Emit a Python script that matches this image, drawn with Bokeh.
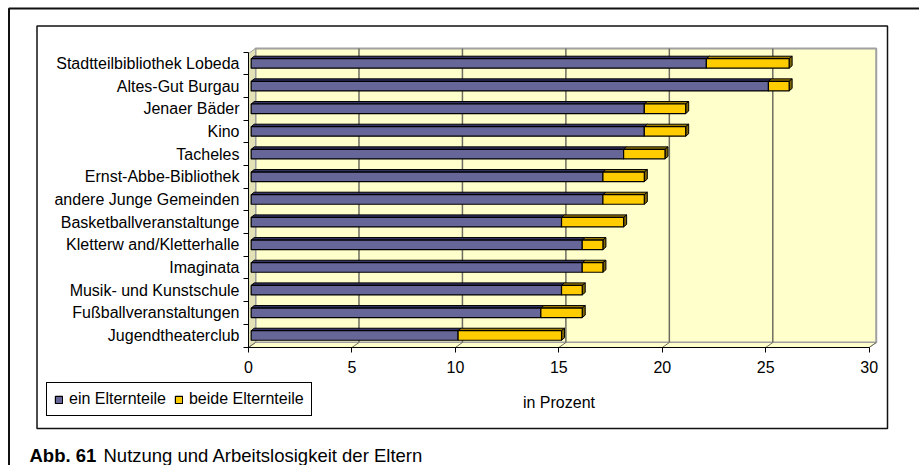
from bokeh.plotting import figure
from bokeh.models import Range1d, FixedTicker, BoxAnnotation, Label, Legend, LegendItem, ColumnDataSource
from bokeh.embed import file_html
from bokeh.resources import INLINE

# ---- data (top to bottom as in the chart) ----
categories = ["Stadtteilbibliothek Lobeda", "Altes-Gut Burgau", "Jenaer Bäder", "Kino",
              "Tacheles", "Ernst-Abbe-Bibliothek", "andere Junge Gemeinden",
              "Basketballveranstaltunge", "Kletterw and/Kletterhalle", "Imaginata",
              "Musik- und Kunstschule", "Fußballveranstaltungen", "Jugendtheaterclub"]
ein_elternteil = [22, 25, 19, 19, 18, 17, 17, 15, 16, 16, 15, 14, 10]
beide_elternteile = [4, 1, 2, 2, 2, 2, 2, 3, 1, 1, 1, 2, 5]
x_ticks = [0, 5, 10, 15, 20, 25, 30]
series_names = ["ein Elternteile", "beide Elternteile"]
x_label = "in Prozent"
caption_bold = "Abb. 61"
caption_text = "Nutzung und Arbeitslosigkeit der Eltern"

FONT = "Liberation Sans"
BLUE, BLUE_TOP = "#666699", "#333366"
YEL, YEL_TOP, YEL_SIDE = "#FFCC00", "#9C7C00", "#806600"
WALL, WALL_SIDE, GRID = "#FFFFCC", "#E2E2B6", "#6E6E60"

W, HGT = 919, 465
n = len(categories)
ypos = [n - 1 - i for i in range(n)]

# scale: frame covers the whole page, axes drawn at fixed locations
PX_X, PX_Y = 20.69, 22.67          # pixels per unit
X0_PAGE, Y0_PAGE = 248, 347        # page position of (0, Y0)
Y0 = -0.53
x_start = -X0_PAGE / PX_X
x_end = x_start + W / PX_X
y_start = Y0 - (HGT - Y0_PAGE) / PX_Y
y_end = Y0 + Y0_PAGE / PX_Y

DX, DY = 0.34, 0.22          # wall depth (data units)
BDX, BDY = 0.145, 0.11       # bar depth
OX = 0.13                    # bar offset inside depth
H = 0.42                     # bar height
WALL_TOP = 12.66

p = figure(width=W, height=HGT, output_backend="svg", toolbar_location=None,
           x_range=Range1d(x_start, x_end), y_range=Range1d(y_start, y_end),
           min_border=0)
p.min_border_left = p.min_border_right = p.min_border_top = p.min_border_bottom = 0
p.outline_line_color = None
p.background_fill_color = "white"
p.border_fill_color = "white"
p.xgrid.visible = False
p.ygrid.visible = False

xmax = x_ticks[-1]
# back wall, side wall, floor
p.quad(left=DX, right=xmax + DX, bottom=Y0 + DY, top=WALL_TOP, fill_color=WALL,
       line_color="#A0A0A0", line_width=2)
p.patch([0, DX, DX, 0], [Y0, Y0 + DY, WALL_TOP, WALL_TOP - DY], fill_color=WALL_SIDE,
        line_color="#A0A0A0", line_width=1)
p.patch([0, xmax, xmax + DX, DX], [Y0, Y0, Y0 + DY, Y0 + DY], fill_color=WALL,
        line_color="#A0A0A0", line_width=1)
# grid lines on back wall and floor
p.segment(x0=[t + DX for t in x_ticks[1:-1]], y0=[Y0 + DY] * (len(x_ticks) - 2),
          x1=[t + DX for t in x_ticks[1:-1]], y1=[WALL_TOP] * (len(x_ticks) - 2),
          line_color=GRID, line_width=1.5)
p.segment(x0=x_ticks, y0=[Y0] * len(x_ticks), x1=[t + DX for t in x_ticks],
          y1=[Y0 + DY] * len(x_ticks), line_color=GRID, line_width=1)

# bars
l1 = [OX] * n
r1 = [OX + a for a in ein_elternteil]
r2 = [OX + a + b for a, b in zip(ein_elternteil, beide_elternteile)]
src = ColumnDataSource(dict(y=ypos, l1=l1, r1=r1, r2=r2))

def top_face(l, r, y):
    t = y + H / 2
    return [l, l + BDX, r + BDX, r], [t, t + BDY, t + BDY, t]

def side_face(r, y):
    t, b = y + H / 2, y - H / 2
    return [r, r + BDX, r + BDX, r], [b, b + BDY, t + BDY, t]

tb = [top_face(l, r, y) for l, r, y in zip(l1, r1, ypos)]
ty = [top_face(l, r, y) for l, r, y in zip(r1, r2, ypos)]
sy = [side_face(r, y) for r, y in zip(r2, ypos)]
p.patches([a for a, _ in tb], [b for _, b in tb], fill_color=BLUE_TOP, line_color="black", line_width=1)
p.patches([a for a, _ in ty], [b for _, b in ty], fill_color=YEL_TOP, line_color="black", line_width=1)
p.patches([a for a, _ in sy], [b for _, b in sy], fill_color=YEL_SIDE, line_color="black", line_width=1)
rb = p.hbar(y="y", left="l1", right="r1", height=H, source=src, fill_color=BLUE,
            line_color="black", line_width=1.2)
ry = p.hbar(y="y", left="r1", right="r2", height=H, source=src, fill_color=YEL,
            line_color="black", line_width=1.2)

# axes (drawn at fixed data locations inside the frame)
xa = p.xaxis[0]
xa.fixed_location = Y0
xa.ticker = FixedTicker(ticks=x_ticks)
xa.bounds = (0, xmax)
xa.axis_line_color = "black"
xa.major_tick_out = 5
xa.major_tick_in = 0
xa.minor_tick_line_color = None
xa.major_label_text_font = FONT
xa.major_label_text_font_size = "16px"
xa.major_label_text_color = "black"
xa.major_label_standoff = 8
xa.axis_label = x_label
xa.axis_label_text_font = FONT
xa.axis_label_text_font_size = "16px"
xa.axis_label_text_font_style = "normal"
xa.axis_label_text_color = "black"
xa.axis_label_standoff = 18

ya = p.yaxis[0]
ya.fixed_location = 0
ya.ticker = FixedTicker(ticks=ypos, minor_ticks=[y + 0.5 for y in ypos] + [Y0])
ya.bounds = (Y0, ypos[0] + 0.5)
ya.major_label_overrides = {y: c for y, c in zip(ypos, categories)}
ya.axis_line_color = "black"
ya.major_tick_out = 0
ya.major_tick_in = 0
ya.minor_tick_out = 5
ya.minor_tick_in = 0
ya.minor_tick_line_color = "black"
ya.major_label_text_font = FONT
ya.major_label_text_font_size = "16px"
ya.major_label_text_color = "black"
ya.major_label_standoff = 4

# frames (screen units: x from left, y up from bottom of the page)
def sx(px):
    return px

def sy_(py):
    return HGT - py

def box(l, r, t, b, lw):
    return BoxAnnotation(left=sx(l), right=sx(r), top=sy_(t), bottom=sy_(b),
                         left_units="screen", right_units="screen", top_units="screen",
                         bottom_units="screen", fill_alpha=0, fill_color=None,
                         line_color="#111111", line_alpha=1.0, line_width=lw, level="overlay")

p.add_layout(box(8.5, 960, 8, 520, 2))
p.add_layout(box(36.5, 887, 25.5, 428, 1.5))

legend = Legend(items=[LegendItem(label=series_names[0], renderers=[rb]),
                       LegendItem(label=series_names[1], renderers=[ry])],
                location=(sx(46), sy_(416)), orientation="horizontal",
                border_line_color="black", border_line_width=1, border_line_alpha=1.0,
                background_fill_color="white", background_fill_alpha=1,
                padding=7, spacing=8, label_standoff=6, glyph_width=9, glyph_height=9,
                label_height=18, label_text_font=FONT, label_text_font_size="16px",
                label_text_color="black", margin=0)
p.add_layout(legend, "center")

p.add_layout(Label(x=sx(29), y=sy_(455), x_units="screen", y_units="screen", text=caption_bold,
                   text_font=FONT, text_font_size="18.5px", text_font_style="bold",
                   text_color="black", text_baseline="alphabetic"))
p.add_layout(Label(x=sx(103), y=sy_(455), x_units="screen", y_units="screen", text=caption_text,
                   text_font=FONT, text_font_size="18.5px", text_color="black",
                   text_baseline="alphabetic"))

open("out.html", "w").write(file_html(p, INLINE))
